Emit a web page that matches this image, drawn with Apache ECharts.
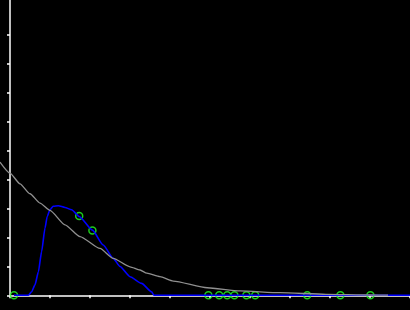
<!DOCTYPE html>
<html>
<head>
<meta charset="utf-8">
<script src="https://cdn.jsdelivr.net/npm/echarts@6/dist/echarts.min.js"></script>
<style>html,body{margin:0;padding:0;background:#000;}#c{width:410px;height:310px;}</style>
</head>
<body>
<div id="c"></div>
<script>
// Blue curve (x, y) in axis units
var blueX = [0.1, 0.46, 0.54, 0.625, 0.71, 0.79, 0.875, 0.93, 1.0, 1.08, 1.21, 1.375, 1.54, 1.73, 2.06, 2.33, 2.58, 2.75, 3.0, 3.29, 3.54, 3.6, 10.0];
var blueY = [0, 0, 0.12, 0.36, 0.81, 1.50, 2.31, 2.71, 2.94, 3.06, 3.08, 3.02, 2.94, 2.71, 2.24, 1.73, 1.27, 0.99, 0.64, 0.41, 0.12, 0, 0];
// Gray curve
var grayX = [-0.25, 0, 0.25, 0.5, 0.75, 1.0, 1.375, 1.75, 2.25, 2.58, 3.0, 3.25, 3.42, 3.75, 4.08, 4.93, 5.75, 6.75, 7.9, 9.0, 9.45];
var grayY = [4.58, 4.2, 3.83, 3.49, 3.17, 2.92, 2.42, 2.02, 1.61, 1.27, 0.98, 0.87, 0.76, 0.64, 0.49, 0.26, 0.15, 0.09, 0.035, 0.01, 0.005];
// Green markers
var ptX = [0.1, 1.73, 2.06, 4.96, 5.23, 5.43, 5.61, 5.91, 6.13, 7.43, 8.26, 9.01];
var ptY = [0, 2.73, 2.23, 0, 0, 0, 0, 0, 0, 0, 0, 0];
// Tick ranges
var xTickMax = 10;
var yTickMax = 9;

function zip(a, b) { return a.map(function (v, i) { return [v, b[i]]; }); }

var hidden = {show: false};
var white = {color: '#fff', width: 1.5};

var chart = echarts.init(document.getElementById('c'), null, {renderer: 'canvas'});
chart.setOption({
  backgroundColor: '#000',
  animation: false,
  grid: [
    // data grid (extends left of the y axis)
    {left: 0, right: 0, top: -24.7, bottom: 14.7, outerBoundsMode: 'none', containLabel: false},
    // axis lines + x ticks
    {left: 10, right: 0, top: -24.7, bottom: 14.7, outerBoundsMode: 'none', containLabel: false},
    // y ticks
    {left: 10, right: 0, top: 34.3, bottom: 14.7, outerBoundsMode: 'none', containLabel: false}
  ],
  xAxis: [
    {gridIndex: 0, type: 'value', min: -0.25, max: 10, show: false, splitLine: hidden},
    {gridIndex: 1, type: 'value', min: 0, max: xTickMax, interval: 1, splitLine: hidden,
      axisLine: {show: true, onZero: false, lineStyle: white},
      axisTick: {show: true, length: 3, lineStyle: white},
      axisLabel: hidden},
    {gridIndex: 2, type: 'value', min: 0, max: xTickMax, show: false, splitLine: hidden}
  ],
  yAxis: [
    {gridIndex: 0, type: 'value', min: 0, max: 11, show: false, splitLine: hidden},
    {gridIndex: 1, type: 'value', min: 0, max: 11, interval: 1, splitLine: hidden,
      axisLine: {show: true, onZero: false, lineStyle: white},
      axisTick: hidden, axisLabel: hidden},
    {gridIndex: 2, type: 'value', min: 0, max: yTickMax, interval: 1, splitLine: hidden,
      axisLine: hidden,
      axisTick: {show: true, length: 3, lineStyle: white},
      axisLabel: hidden}
  ],
  series: [
    {
      type: 'line', xAxisIndex: 0, yAxisIndex: 0, data: zip(blueX, blueY), showSymbol: false, clip: false,
      smooth: 0.2, smoothMonotone: 'x',
      lineStyle: {color: '#0000ff', width: 1.6}
    },
    {
      type: 'line', xAxisIndex: 0, yAxisIndex: 0, data: zip(grayX, grayY), showSymbol: false, clip: false,
      smooth: 0.2, smoothMonotone: 'x',
      lineStyle: {color: '#909090', width: 1.3}
    },
    {
      type: 'scatter', xAxisIndex: 0, yAxisIndex: 0, data: zip(ptX, ptY), symbol: 'circle', symbolSize: 7, clip: false,
      itemStyle: {color: 'rgba(0,0,0,0)', borderColor: '#22ff22', borderWidth: 1.5}
    }
  ]
});
</script>
</body>
</html>
